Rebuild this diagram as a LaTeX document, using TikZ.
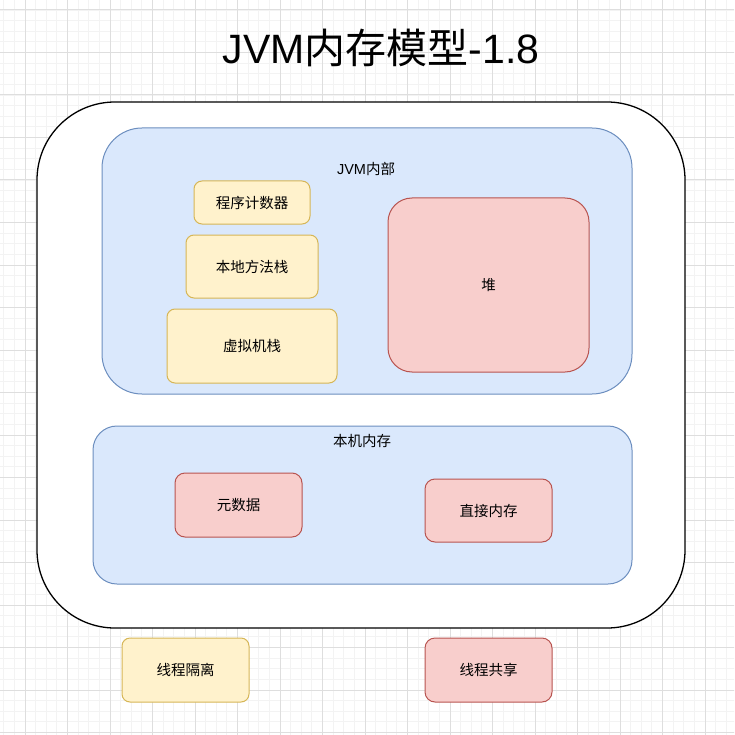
\documentclass[tikz,border=0pt]{standalone}
\usepackage{fontspec}
\setmainfont{Noto Sans CJK SC}
\newfontfamily\latinfont{Liberation Sans}
\usepackage{tikz}

\definecolor{blueFill}{HTML}{DAE8FC}
\definecolor{blueLine}{HTML}{6C8EBF}
\definecolor{yellowFill}{HTML}{FFF2CC}
\definecolor{yellowLine}{HTML}{D6B656}
\definecolor{redFill}{HTML}{F8CECC}
\definecolor{redLine}{HTML}{B85450}
\definecolor{gridMinor}{HTML}{F3F3F3}
\definecolor{gridMajor}{HTML}{DEDEDE}

\begin{document}
\begin{tikzpicture}[x=1pt, y=-1pt,
	every node/.style={inner sep=0pt, outer sep=0pt, font=\fontsize{14.5}{16}\selectfont},
	area/.style={draw=blueLine, fill=blueFill, line width=1pt},
	isolated/.style={draw=yellowLine, fill=yellowFill, line width=1pt, rounded corners=8pt},
	shared/.style={draw=redLine, fill=redFill, line width=1pt, rounded corners=10pt}]
		\useasboundingbox (0, 0) rectangle (734, 735);
		% grid background
		\begin{scope}
			\clip (0, 0) rectangle (734, 735);
			\fill[white] (0, 0) rectangle (734, 735);
			\draw[gridMinor, line width=0.8pt, step=10.625pt, shift={(25, 10)}] (-40, -40) grid (720, 740);
			\draw[gridMajor, line width=1pt, step=42.5pt, shift={(25, 10)}] (-40, -40) grid (720, 740);
		\end{scope}
		\node (title) at (381, 48) {\fontsize{41}{44}\selectfont{\latinfont JVM}内存模型{\latinfont -1.8}};
		\node[draw=black, fill=white, line width=1.3pt, rounded corners=78pt,
			minimum width=648, minimum height=526] (jvm) at (361, 365) {};
		% JVM inner part
		\node[area, rounded corners=40pt, minimum width=530, minimum height=266] (inner) at (367, 261) {};
		\node (innerLabel) at (366, 169) {{\latinfont JVM}内部};
		\node[isolated, minimum width=116, minimum height=43] (pc) at (252, 202.5) {程序计数器};
		\node[isolated, minimum width=132, minimum height=63] (native) at (252, 266.5) {本地方法栈};
		\node[isolated, minimum width=170, minimum height=74] (vmstack) at (252, 346) {虚拟机栈};
		\node[shared, rounded corners=24pt, minimum width=201, minimum height=174] (heap) at (488.5, 285) {堆};
		% native memory
		\node[area, rounded corners=24pt, minimum width=539, minimum height=158] (local) at (362.5, 505) {};
		\node (localLabel) at (362, 441) {本机内存};
		\node[shared, minimum width=127, minimum height=64] (meta) at (238.5, 505) {元数据};
		\node[shared, minimum width=127, minimum height=63] (direct) at (488.5, 510.5) {直接内存};
		% legend
		\node[isolated, minimum width=127, minimum height=64] (legendA) at (185.5, 670) {线程隔离};
		\node[shared, minimum width=127, minimum height=64] (legendB) at (488.5, 670) {线程共享};
\end{tikzpicture}
\end{document}
